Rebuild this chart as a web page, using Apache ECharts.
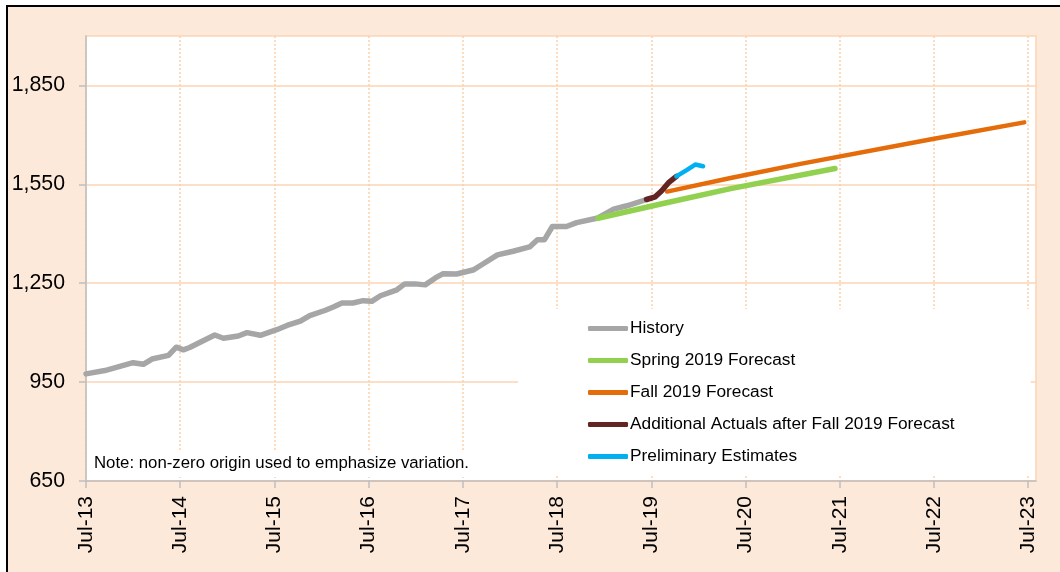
<!DOCTYPE html>
<html>
<head>
<meta charset="utf-8">
<script src="https://cdn.jsdelivr.net/npm/echarts@6/dist/echarts.min.js"></script>
<style>
  html, body { margin: 0; padding: 0; background: #fff; }
  .frame { position: absolute; left: 6px; top: 5px; width: 1060px; height: 580px; background: #fde9d9; border-top: 2px solid #000; border-left: 2px solid #000; }
  #chart { position: absolute; left: 0; top: 0; width: 1060px; height: 572px; }
</style>
</head>
<body>
<div class="frame"></div>
<div id="chart"></div>
<script>
// x = months since Jul-13, y = value
const yearTicks = [0, 12, 24, 36, 48, 60, 72, 84, 96, 108, 120];
const yearLabels = ["Jul-13", "Jul-14", "Jul-15", "Jul-16", "Jul-17", "Jul-18", "Jul-19", "Jul-20", "Jul-21", "Jul-22", "Jul-23"];
const valueTicks = [650, 950, 1250, 1550, 1850];

const historyX = [0, 2.4, 6, 7.3, 8.4, 10.5, 11.5, 12.4, 13.2, 16.4, 17.5, 19.4, 20.5, 22.2, 24.3, 25.6, 27.3, 28.5, 30.5, 31.5, 32.6, 34, 35.3, 36.4, 37.5, 39.6, 40.6, 41.9, 43.2, 44.5, 45.5, 47.2, 49.3, 50.4, 52.4, 54.4, 56.5, 57.5, 58.4, 59.4, 61.2, 62.5, 65.2, 67.2, 68.9, 71.4];
const historyY = [975, 985, 1009, 1004, 1020, 1031, 1056, 1048, 1055, 1093, 1083, 1090, 1100, 1092, 1109, 1122, 1135, 1152, 1168, 1178, 1190, 1190, 1197, 1195, 1212, 1230, 1248, 1248, 1245, 1266, 1279, 1278, 1290, 1306, 1336, 1347, 1360, 1382, 1382, 1422, 1422, 1434, 1448, 1475, 1485, 1504];

const springX = [65.2, 73.5, 82.1, 95.4];
const springY = [1447, 1492, 1537, 1598];

const fallX = [74, 82.1, 91, 107.5, 119.5];
const fallY = [1528, 1569, 1612, 1686, 1738];

const actualsX = [71.4, 72.5, 73.3, 74.2, 75.2];
const actualsY = [1504, 1512, 1530, 1555, 1574];

const prelimX = [75.2, 76.5, 77.6, 78.6];
const prelimY = [1574, 1593, 1610, 1605];

const FONT = "'Liberation Sans', Arial, sans-serif";
const pairs = (xs, ys) => xs.map((x, i) => [x, ys[i]]);

function lineSeries(name, xs, ys, color, width) {
  return {
    name,
    type: "line",
    data: pairs(xs, ys),
    symbol: "none",
    lineStyle: { color, width, cap: "round", join: "round" },
    itemStyle: { color },
  };
}

const chart = echarts.init(document.getElementById("chart"));
chart.setOption({
  animation: false,
  backgroundColor: "transparent",
  textStyle: { fontFamily: FONT },
  grid: {
    left: 86, right: 24, top: 36, bottom: 91,
    show: true, backgroundColor: "#fff", borderColor: "#fcd5b4", borderWidth: 1.5,
  },
  title: {
    text: "Note: non-zero origin used to emphasize variation.",
    left: 88, top: 450,
    padding: [5, 6, 5, 6],
    backgroundColor: "#fff",
    textStyle: { fontFamily: FONT, fontSize: 16.8, fontWeight: "normal", color: "#000" },
  },
  legend: {
    orient: "vertical",
    left: 518, top: 309,
    padding: [11, 76, 10, 70],
    backgroundColor: "#fff",
    icon: "roundRect",
    itemWidth: 40, itemHeight: 5, itemGap: 15,
    textStyle: { fontFamily: FONT, fontSize: 17.3, color: "#000", padding: [0, 0, 0, -3] },
    data: ["History", "Spring 2019 Forecast", "Fall 2019 Forecast", "Additional Actuals after Fall 2019 Forecast", "Preliminary Estimates"],
  },
  xAxis: {
    type: "value",
    min: 0, max: 121,
    axisLine: { lineStyle: { color: "#bfbfbf", width: 1.5 } },
    axisTick: { customValues: yearTicks, length: 7, lineStyle: { color: "#bfbfbf", width: 1.5 } },
    axisLabel: {
      customValues: yearTicks,
      rotate: 90, margin: 15,
      fontFamily: FONT, fontSize: 21, color: "#000",
      formatter: (v) => yearLabels[yearTicks.indexOf(v)] || "",
    },
    splitLine: { show: true, lineStyle: { color: "#fcd0aa", width: 1.5, type: [2, 2] } },
  },
  yAxis: {
    type: "value",
    min: 650, max: 2000,
    axisLine: { show: true, lineStyle: { color: "#bfbfbf", width: 1.5 } },
    axisTick: { show: true, customValues: valueTicks, length: 7, lineStyle: { color: "#bfbfbf", width: 1.5 } },
    axisLabel: {
      customValues: valueTicks,
      margin: 21,
      fontFamily: FONT, fontSize: 21.3, color: "#000",
      formatter: (v) => v.toLocaleString("en-US"),
    },
    splitLine: { show: true, lineStyle: { color: "#fcd5b4", width: 1.5 } },
  },
  series: [
    lineSeries("History", historyX, historyY, "#a6a6a6", 5.5),
    lineSeries("Spring 2019 Forecast", springX, springY, "#92d050", 5.5),
    lineSeries("Fall 2019 Forecast", fallX, fallY, "#e46c0a", 4.5),
    lineSeries("Additional Actuals after Fall 2019 Forecast", actualsX, actualsY, "#632523", 5.5),
    lineSeries("Preliminary Estimates", prelimX, prelimY, "#00b0f0", 4.5),
  ],
});
</script>
</body>
</html>
